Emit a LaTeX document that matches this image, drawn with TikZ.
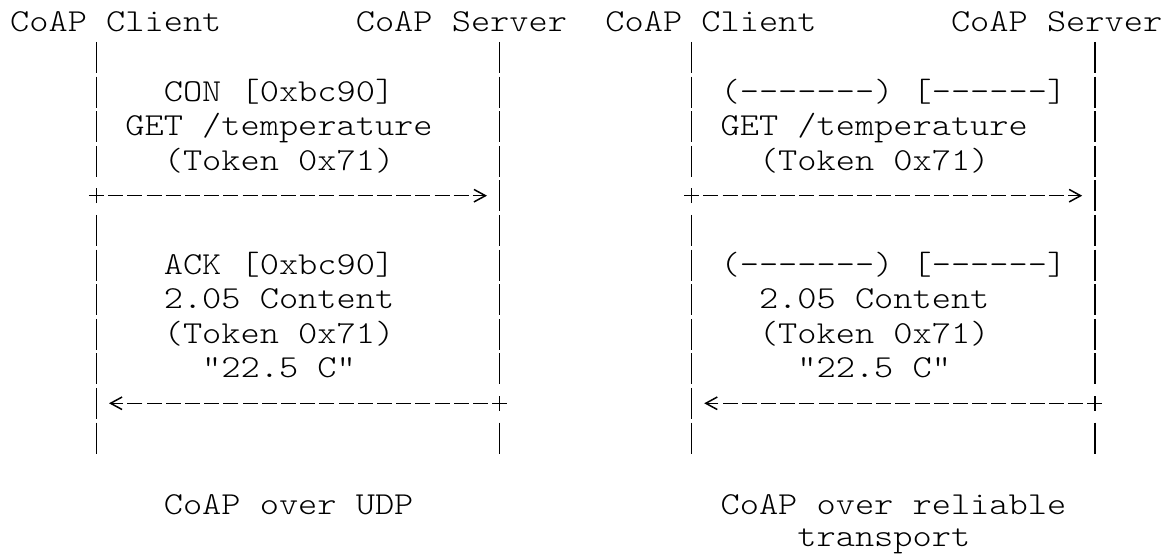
\documentclass[tikz,border=0pt]{standalone}
\usepackage{fontspec}
\setmonofont{lmmonolt10-regular.otf}[FakeStretch=1.1429]
\usetikzlibrary{arrows.meta}

\tikzset{
  txt/.style={font=\ttfamily\fontsize{32}{34.6}\selectfont, inner sep=0pt, anchor=base west},
  life/.style={line width=1.5pt, dash pattern=on 31pt off 3.6pt},
  msg/.style={line width=1.5pt, dash pattern=on 15pt off 4.2pt,
    shorten <=11.7pt, shorten >=12.6pt,
    -{Straight Barb[length=11.5pt,width=12.5pt,line width=1.5pt]}},
  plus/.style={line width=1.5pt}
}

\begin{document}
\begin{tikzpicture}[x=19.2pt,y=-34.6pt]
  \useasboundingbox (-10pt,32pt) rectangle (1153pt,-524pt);
  % end points
  \node[txt] (cliA) at (0,0) {CoAP Client};
  \node[txt] (srvA) at (18,0) {CoAP Server};
  \node[txt] (cliB) at (31,0) {CoAP Client};
  \node[txt] (srvB) at (49,0) {CoAP Server};

  % lifelines, left
  \coordinate (cliA1) at (4.5,0.289);
  \coordinate (cliA4) at (4.5,4.185);
  \coordinate (cliA6) at (4.5,5.289);
  \coordinate (cliA12) at (4.5,12.185);
  \coordinate (srvA1) at (25.5,0.289);
  \coordinate (srvA10) at (25.5,10.185);
  \coordinate (srvA11) at (25.5,11.289);
  \coordinate (srvA12) at (25.5,12.185);
  % lifelines, right
  \coordinate (cliB1) at (35.5,0.289);
  \coordinate (cliB4) at (35.5,4.185);
  \coordinate (cliB6) at (35.5,5.289);
  \coordinate (cliB12) at (35.5,12.185);
  \coordinate (srvB1) at (56.5,0.289);
  \coordinate (srvB10) at (56.5,10.185);
  \coordinate (srvB11) at (56.5,11.289);
  \coordinate (srvB12) at (56.5,12.185);
  \begin{scope}[life]
    \draw (cliA1) -- (cliA4);
    \draw (cliA6) -- (cliA12);
    \draw (srvA1) -- (srvA10);
    \draw (srvA11) -- (srvA12);
    \draw (cliB1) -- (cliB4);
    \draw (cliB6) -- (cliB12);
    \draw (srvB1) -- (srvB10);
    \draw (srvB11) -- (srvB12);
  \end{scope}

  % request
  \node[txt] (conA) at (8,2) {CON [0xbc90]};
  \node[txt] (getA) at (6,3) {GET /temperature};
  \node[txt] (tokA) at (8,4) {(Token 0x71)};
  \node[txt] (conB) at (37,2) {(-------) [------]};
  \node[txt] (getB) at (37,3) {GET /temperature};
  \node[txt] (tokB) at (39,4) {(Token 0x71)};
  \coordinate (reqA) at (4.5,4.731);
  \coordinate (reqA') at (25.5,4.731);
  \coordinate (reqB) at (35.5,4.731);
  \coordinate (reqB') at (56.5,4.731);
  \draw[msg] (reqA) -- (reqA');
  \draw[msg] (reqB) -- (reqB');
  \draw[plus] (reqA) +(-7.5pt,0) -- +(7.5pt,0) +(0,-7.5pt) -- +(0,7.5pt);
  \draw[plus] (reqB) +(-7.5pt,0) -- +(7.5pt,0) +(0,-7.5pt) -- +(0,7.5pt);

  % response
  \node[txt] (ackA) at (8,7) {ACK [0xbc90]};
  \node[txt] (codeA) at (8,8) {2.05 Content};
  \node[txt] (tokA') at (8,9) {(Token 0x71)};
  \node[txt] (valA) at (10,10) {"22.5 C"};
  \node[txt] (ackB) at (37,7) {(-------) [------]};
  \node[txt] (codeB) at (39,8) {2.05 Content};
  \node[txt] (tokB') at (39,9) {(Token 0x71)};
  \node[txt] (valB) at (41,10) {"22.5 C"};
  \coordinate (rspA) at (25.5,10.731);
  \coordinate (rspA') at (4.5,10.731);
  \coordinate (rspB) at (56.5,10.731);
  \coordinate (rspB') at (35.5,10.731);
  \draw[msg] (rspA) -- (rspA');
  \draw[msg] (rspB) -- (rspB');
  \draw[plus] (rspA) +(-7.5pt,0) -- +(7.5pt,0) +(0,-7.5pt) -- +(0,7.5pt);
  \draw[plus] (rspB) +(-7.5pt,0) -- +(7.5pt,0) +(0,-7.5pt) -- +(0,7.5pt);

  % captions
  \node[txt] (udp) at (8,13.95) {CoAP over UDP};
  \node[txt] (tcp) at (37,13.95) {CoAP over reliable};
  \node[txt] (tcp') at (41,14.87) {transport};
\end{tikzpicture}
\end{document}
